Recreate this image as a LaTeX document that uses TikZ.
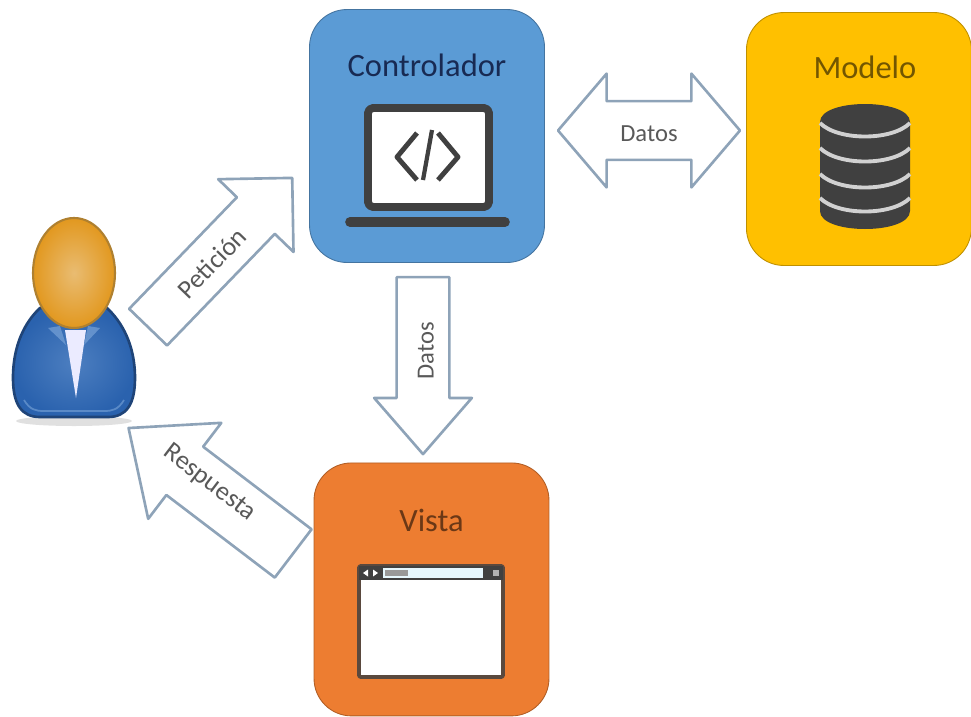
\documentclass[tikz,border=0pt]{standalone}
\usepackage{fontspec}
\setmainfont{Carlito}
\usetikzlibrary{shapes.arrows}

\definecolor{ctrlblue}{HTML}{5B9BD5}
\definecolor{modelyellow}{HTML}{FFC000}
\definecolor{vistaorange}{HTML}{ED7D31}
\definecolor{icondark}{HTML}{404040}
\definecolor{arrowline}{HTML}{8EA3B8}
\definecolor{labelgray}{HTML}{595959}
\definecolor{suitblue}{HTML}{2A62AE}
\definecolor{suitedge}{HTML}{1F4478}
\definecolor{suitlight}{HTML}{6F9BD2}
\definecolor{headin}{HTML}{E9BC72}
\definecolor{headout}{HTML}{E2981F}
\definecolor{headedge}{HTML}{AF8030}

\tikzset{
    mvcbox/.style = {draw=#1!75!black, fill=#1, rounded corners=.75cm, line width=.5pt,
        minimum width=4.7cm, minimum height=5.06cm, inner sep=0pt},
    boxtitle/.style = {font=\fontsize{18.5}{20}\selectfont, text=#1},
    flecha/.style = {shape=single arrow, draw=arrowline, fill=white, line width=1.5pt, inner xsep=0pt,
        outer sep=0pt, text=labelgray, font=\fontsize{14}{16}\selectfont, text height=12pt, text depth=0pt},
    flechadoble/.style = {flecha, shape=double arrow}
}

\begin{document}
\begin{tikzpicture}[
            x = .02cm, y = -.02cm, % one unit is one pixel of the picture
            node distance = 8.64cm,
            line join = round
        ]
    \useasboundingbox (0,0) rectangle (971,717);

    % the three boxes
    \node[mvcbox=ctrlblue] (ctrl) at (427,136) {};
    \node[mvcbox=modelyellow, minimum width=4.5cm] (model) [right of=ctrl, yshift=-.06cm] {};
    \node[mvcbox=vistaorange] (vista) [below of=ctrl, node distance=9.07cm, xshift=.09cm] {};

    \node[boxtitle=ctrlblue!30!black!90!blue] (ctrltitle) [above of=ctrl, node distance=1.42cm] {Controlador};
    \node[boxtitle=modelyellow!45!black] (modeltitle) [above of=model, node distance=1.44cm, xshift=.12cm] {Modelo};
    \node[boxtitle=vistaorange!45!black] (vistatitle) [above of=vista, node distance=1.37cm] {Vista};

    % laptop
    \draw[icondark, fill=white, line width=4.5pt, rounded corners=.1cm] (368,108) rectangle (489,207);
    \draw[icondark, line width=5.5pt, line cap=round] (350,222) -- (505,222);
    \draw[icondark, line width=2.8pt] (417,133) -- (397,157) -- (417,180);
    \draw[icondark, line width=2.8pt] (438,133) -- (458,157) -- (438,180);
    \draw[icondark, line width=2.4pt] (432,130) -- (423,180);

    % database
    \fill[icondark] (820,122) -- (820,211) .. controls (820,235) and (910,235) .. (910,211) -- (910,122) .. controls (910,98) and (820,98) .. (820,122) -- cycle;
    \foreach \y in {123,148,174,198}
        \draw[white!82!black, line width=2.2pt] (820,\y) .. controls (838,\y+18) and (892,\y+18) .. (910,\y);

    % browser window
    \draw[icondark!85!vistaorange, fill=white, line width=2.2pt, rounded corners=.04cm] (359,566) rectangle (503,677);
    \fill[icondark] (359,566) rectangle (503,580);
    \fill[white!90!cyan] (383,568) rectangle (483,578);
    \fill[white!60!black] (385,570) rectangle (408,576);
    \fill[white] (368,569.5) -- (363,573) -- (368,576.5) -- cycle;
    \fill[white] (373,569.5) -- (378,573) -- (373,576.5) -- cycle;
    \fill[white!70!black] (493,570) rectangle (499,576);

    % person
    \fill[black!12] (74,421) ellipse [x radius=58, y radius=5];
    \shade[inner color=suitlight!50!suitblue, outer color=suitblue, draw=suitedge, line width=1.5pt]
        (40,308) .. controls (25,322) and (13,345) .. (13,378) .. controls (13,405) and (22,417) .. (40,417)
        -- (108,417) .. controls (126,417) and (135,405) .. (135,378) .. controls (135,345) and (122,322) .. (107,308) -- cycle;
    \draw[suitlight, line width=1pt, opacity=.7] (24,400) .. controls (30,410) and (36,411) .. (44,411) -- (104,411) .. controls (112,411) and (118,410) .. (124,400);
    \fill[white!92!blue] (65,330) -- (86,330) -- (76,398) -- cycle;
    \fill[suitlight, opacity=.8] (48,328) -- (60,326) -- (66,345) -- cycle;
    \fill[suitlight, opacity=.8] (100,328) -- (88,326) -- (84,345) -- cycle;
    \shade[inner color=headin, outer color=headout, draw=headedge, line width=1.2pt]
        (74,273) ellipse [x radius=41, y radius=55];

    % block arrows
    \node[flecha, rotate=46, inner ysep=.29cm, minimum height=4.15cm, minimum width=2.04cm, single arrow head extend=.52cm,
        single arrow tip angle=90, font=\fontsize{15}{17}\selectfont] (peticion) at (211,262) {Petición};
    \node[flechadoble, inner ysep=.35cm, minimum height=3.64cm, minimum width=2.22cm, double arrow head extend=.55cm,
        double arrow tip angle=99] (datosmodel) at (649,130.5) {Datos};
    \node[flecha, rotate=90, shape border rotate=180, inner ysep=.29cm, minimum height=3.54cm, minimum width=1.9cm,
        single arrow head extend=.45cm, single arrow tip angle=82] (datosvista) at (423,350.5) {Datos};
    \node[flecha, rotate=-37.3, shape border rotate=180, inner ysep=.37cm, minimum height=4.14cm, minimum width=2.36cm,
        single arrow head extend=.6cm, single arrow tip angle=81, font=\fontsize{15}{17}\selectfont,
        text height=6.6pt, text depth=5.4pt] (respuesta) at (225,501.5) {Respuesta\hspace*{.95cm}};
\end{tikzpicture}
\end{document}
